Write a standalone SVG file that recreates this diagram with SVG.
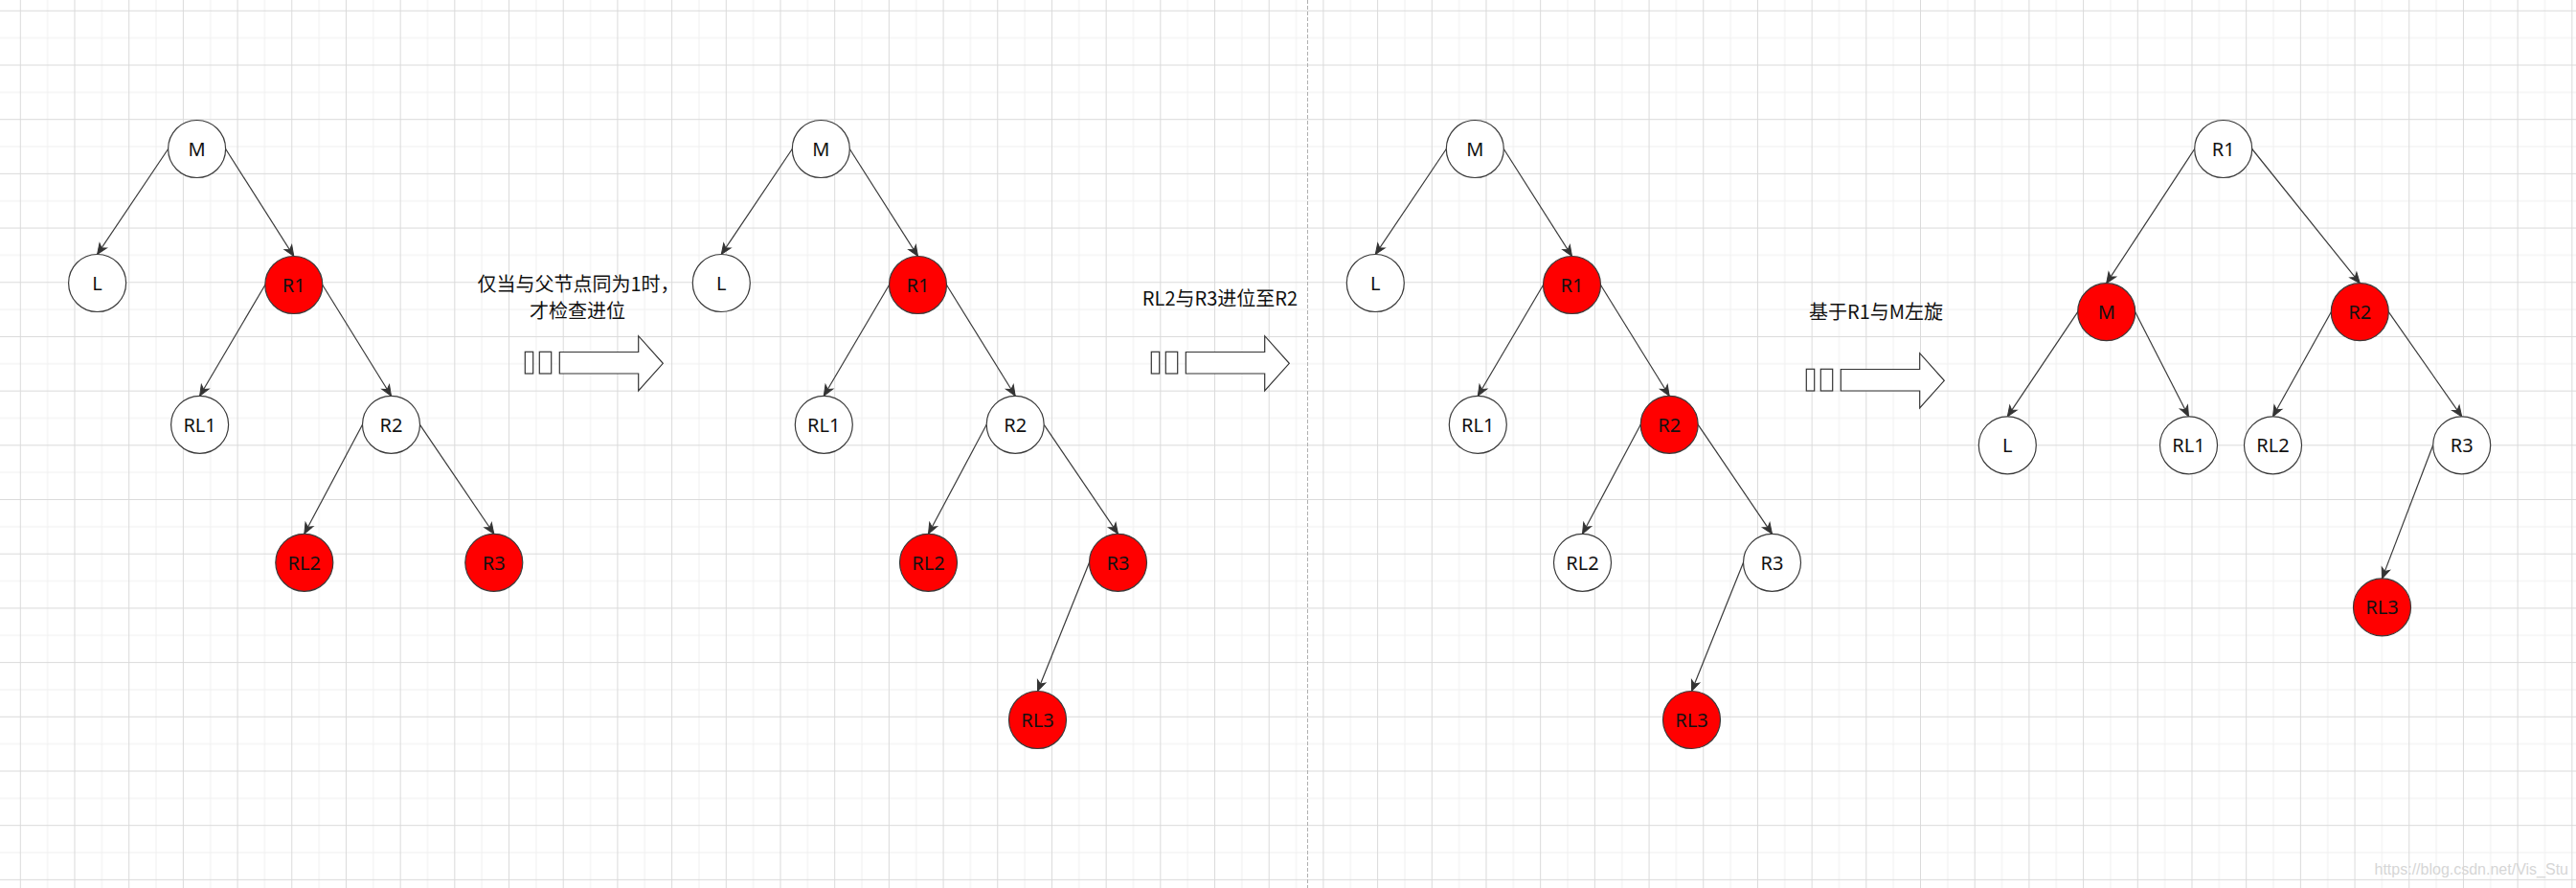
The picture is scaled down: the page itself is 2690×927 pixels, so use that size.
<svg xmlns="http://www.w3.org/2000/svg" width="2690" height="927" viewBox="0 0 2690 927">
<style>
.node circle{stroke:#3a3a3a;stroke-width:1.2;fill:#fff}
.node.red circle{fill:#ff0000}
.node text{font-family:'Noto Sans','Noto Sans CJK SC',sans-serif;font-size:20px;text-anchor:middle;fill:#111}
.edge{stroke:#3a3a3a;stroke-width:1.2;fill:none;marker-end:url(#arr)}
.note{font-family:'Noto Sans CJK SC',sans-serif;font-size:20px;fill:#111;text-anchor:middle}
.barrow{fill:#fff;stroke:#333;stroke-width:1.2}
</style>
<defs>
<pattern id="grid" patternUnits="userSpaceOnUse" x="20.8" y="10.8" width="56.692" height="56.692">
<rect x="28.346" y="0" width="1" height="56.692" fill="#efefef"/>
<rect x="0" y="28.346" width="56.692" height="1" fill="#efefef"/>
<rect x="0" y="0" width="1" height="56.692" fill="#dadada"/>
<rect x="0" y="0" width="56.692" height="1" fill="#dadada"/>
</pattern>
<marker id="arr" markerUnits="userSpaceOnUse" markerWidth="12" markerHeight="10" refX="11" refY="5" orient="auto" overflow="visible">
<path d="M0,0.5 L11,5 L0,9.5 L3,5 Z" fill="#333" stroke="#333" stroke-width="1"/>
</marker>
</defs>
<rect width="2690" height="927" fill="#fff"/>
<rect width="2690" height="927" fill="url(#grid)"/>
<line x1="1365.5" y1="0" x2="1365.5" y2="927" stroke="#b0b0b0" stroke-width="1" stroke-dasharray="4 2"/>

<g id="connectors">
<line class="edge" x1="175.6" y1="155.5" x2="101.6" y2="265.5"/>
<line class="edge" x1="235.6" y1="155.5" x2="306.8" y2="267.5"/>
<line class="edge" x1="276.8" y1="297.5" x2="208.6" y2="413.3"/>
<line class="edge" x1="336.8" y1="297.5" x2="408.5" y2="413.3"/>
<line class="edge" x1="378.5" y1="443.3" x2="317.8" y2="557.3"/>
<line class="edge" x1="438.5" y1="443.3" x2="515.8" y2="557.3"/>

<line class="edge" x1="827.3" y1="155.5" x2="753.3" y2="265.5"/>
<line class="edge" x1="887.3" y1="155.5" x2="958.5" y2="267.5"/>
<line class="edge" x1="928.5" y1="297.5" x2="860.3" y2="413.3"/>
<line class="edge" x1="988.5" y1="297.5" x2="1060.2" y2="413.3"/>
<line class="edge" x1="1030.2" y1="443.3" x2="969.5" y2="557.3"/>
<line class="edge" x1="1090.2" y1="443.3" x2="1167.5" y2="557.3"/>
<line class="edge" x1="1137.5" y1="587.3" x2="1083.5" y2="721.5"/>

<line class="edge" x1="1510.3" y1="155.5" x2="1436.3" y2="265.5"/>
<line class="edge" x1="1570.3" y1="155.5" x2="1641.5" y2="267.5"/>
<line class="edge" x1="1611.5" y1="297.5" x2="1543.3" y2="413.3"/>
<line class="edge" x1="1671.5" y1="297.5" x2="1743.2" y2="413.3"/>
<line class="edge" x1="1713.2" y1="443.3" x2="1652.5" y2="557.3"/>
<line class="edge" x1="1773.2" y1="443.3" x2="1850.5" y2="557.3"/>
<line class="edge" x1="1820.5" y1="587.3" x2="1766.5" y2="721.5"/>

<line class="edge" x1="2291.7" y1="155.5" x2="2199.7" y2="295.7"/>
<line class="edge" x1="2351.7" y1="155.5" x2="2464.3" y2="295.7"/>
<line class="edge" x1="2169.7" y1="325.7" x2="2096.3" y2="434.8"/>
<line class="edge" x1="2229.7" y1="325.7" x2="2285.5" y2="434.8"/>
<line class="edge" x1="2434.3" y1="325.7" x2="2373.5" y2="434.8"/>
<line class="edge" x1="2494.3" y1="325.7" x2="2570.7" y2="434.8"/>
<line class="edge" x1="2540.7" y1="464.8" x2="2487.5" y2="603.9"/>
</g>

<!-- Tree 1 -->
<g id="t1-M" class="node"><circle cx="205.6" cy="155.5" r="30"/><text x="205.6" y="163">M</text></g>
<g id="t1-L" class="node"><circle cx="101.6" cy="295.5" r="30"/><text x="101.6" y="303">L</text></g>
<g id="t1-R1" class="node red"><circle cx="306.8" cy="297.5" r="30"/><text x="306.8" y="305">R1</text></g>
<g id="t1-RL1" class="node"><circle cx="208.6" cy="443.3" r="30"/><text x="208.6" y="450.8">RL1</text></g>
<g id="t1-R2" class="node"><circle cx="408.5" cy="443.3" r="30"/><text x="408.5" y="450.8">R2</text></g>
<g id="t1-RL2" class="node red"><circle cx="317.8" cy="587.3" r="30"/><text x="317.8" y="594.8">RL2</text></g>
<g id="t1-R3" class="node red"><circle cx="515.8" cy="587.3" r="30"/><text x="515.8" y="594.8">R3</text></g>

<!-- Tree 2 -->
<g id="t2-M" class="node"><circle cx="857.3" cy="155.5" r="30"/><text x="857.3" y="163">M</text></g>
<g id="t2-L" class="node"><circle cx="753.3" cy="295.5" r="30"/><text x="753.3" y="303">L</text></g>
<g id="t2-R1" class="node red"><circle cx="958.5" cy="297.5" r="30"/><text x="958.5" y="305">R1</text></g>
<g id="t2-RL1" class="node"><circle cx="860.3" cy="443.3" r="30"/><text x="860.3" y="450.8">RL1</text></g>
<g id="t2-R2" class="node"><circle cx="1060.2" cy="443.3" r="30"/><text x="1060.2" y="450.8">R2</text></g>
<g id="t2-RL2" class="node red"><circle cx="969.5" cy="587.3" r="30"/><text x="969.5" y="594.8">RL2</text></g>
<g id="t2-R3" class="node red"><circle cx="1167.5" cy="587.3" r="30"/><text x="1167.5" y="594.8">R3</text></g>
<g id="t2-RL3" class="node red"><circle cx="1083.5" cy="751.5" r="30"/><text x="1083.5" y="759">RL3</text></g>

<!-- Tree 3 -->
<g id="t3-M" class="node"><circle cx="1540.3" cy="155.5" r="30"/><text x="1540.3" y="163">M</text></g>
<g id="t3-L" class="node"><circle cx="1436.3" cy="295.5" r="30"/><text x="1436.3" y="303">L</text></g>
<g id="t3-R1" class="node red"><circle cx="1641.5" cy="297.5" r="30"/><text x="1641.5" y="305">R1</text></g>
<g id="t3-RL1" class="node"><circle cx="1543.3" cy="443.3" r="30"/><text x="1543.3" y="450.8">RL1</text></g>
<g id="t3-R2" class="node red"><circle cx="1743.2" cy="443.3" r="30"/><text x="1743.2" y="450.8">R2</text></g>
<g id="t3-RL2" class="node"><circle cx="1652.5" cy="587.3" r="30"/><text x="1652.5" y="594.8">RL2</text></g>
<g id="t3-R3" class="node"><circle cx="1850.5" cy="587.3" r="30"/><text x="1850.5" y="594.8">R3</text></g>
<g id="t3-RL3" class="node red"><circle cx="1766.5" cy="751.5" r="30"/><text x="1766.5" y="759">RL3</text></g>

<!-- Tree 4 -->
<g id="t4-R1" class="node"><circle cx="2321.7" cy="155.5" r="30"/><text x="2321.7" y="163">R1</text></g>
<g id="t4-M" class="node red"><circle cx="2199.7" cy="325.7" r="30"/><text x="2199.7" y="333.2">M</text></g>
<g id="t4-R2" class="node red"><circle cx="2464.3" cy="325.7" r="30"/><text x="2464.3" y="333.2">R2</text></g>
<g id="t4-L" class="node"><circle cx="2096.3" cy="464.8" r="30"/><text x="2096.3" y="472.3">L</text></g>
<g id="t4-RL1" class="node"><circle cx="2285.5" cy="464.8" r="30"/><text x="2285.5" y="472.3">RL1</text></g>
<g id="t4-RL2" class="node"><circle cx="2373.5" cy="464.8" r="30"/><text x="2373.5" y="472.3">RL2</text></g>
<g id="t4-R3" class="node"><circle cx="2570.7" cy="464.8" r="30"/><text x="2570.7" y="472.3">R3</text></g>
<g id="t4-RL3" class="node red"><circle cx="2487.5" cy="633.9" r="30"/><text x="2487.5" y="641.4">RL3</text></g>

<!-- Step 1 -->
<g id="step1">
<text class="note" x="604" y="303.5">仅当与父节点同为1时，</text>
<text class="note" x="603" y="331.5">才检查进位</text>
<rect class="barrow" x="548.3" y="367.3" width="8.4" height="22.7"/>
<rect class="barrow" x="563.3" y="367.3" width="12.4" height="22.7"/>
<polygon class="barrow" points="584.3,367.5 666.7,367.5 666.7,350.7 692.3,379.3 666.7,408 666.7,390 584.3,390"/>
</g>
<!-- Step 2 -->
<g id="step2">
<text class="note" x="1274" y="319">RL2与R3进位至R2</text>
<rect class="barrow" x="1202.3" y="367.3" width="8.4" height="22.7"/>
<rect class="barrow" x="1217.3" y="367.3" width="12.4" height="22.7"/>
<polygon class="barrow" points="1238.3,367.5 1320.7,367.5 1320.7,350.7 1346.3,379.3 1320.7,408 1320.7,390 1238.3,390"/>
</g>
<!-- Step 3 -->
<g id="step3">
<text class="note" x="1959" y="333.3">基于R1与M左旋</text>
<rect class="barrow" x="1886.3" y="385.3" width="8.4" height="22.7"/>
<rect class="barrow" x="1901.3" y="385.3" width="12.4" height="22.7"/>
<polygon class="barrow" points="1922.3,385.5 2004.7,385.5 2004.7,368.7 2030.3,397.3 2004.7,426 2004.7,408 1922.3,408"/>
</g>

<text x="2682" y="913" font-family="'Liberation Sans',sans-serif" font-size="16" fill="#d6d6d6" text-anchor="end">https://blog.csdn.net/Vis_Stu</text>
</svg>
